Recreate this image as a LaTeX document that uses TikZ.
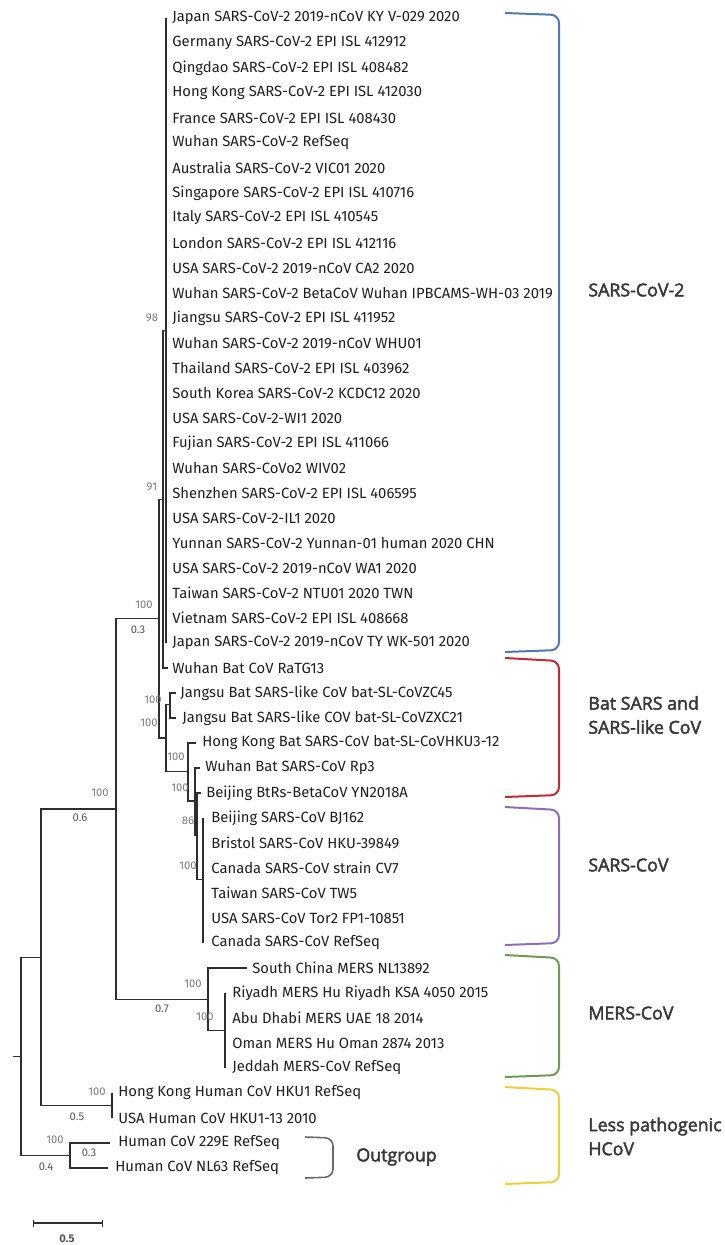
\documentclass[tikz,border=0pt]{standalone}
\usepackage{fontspec}
\setmainfont{Fira Sans}
\newfontfamily\grpfont{Open Sans}[FakeBold=2.5]
\usepackage{tikz}
\usetikzlibrary{positioning, arrows.meta}
\definecolor{treeline}{HTML}{2e2e2e}
\definecolor{leaftext}{HTML}{1f1f1f}
\definecolor{bootgray}{HTML}{7a7a7a}
\definecolor{blengray}{HTML}{555555}
\definecolor{grptext}{HTML}{383838}
\definecolor{cov2blue}{HTML}{4f78b5}
\definecolor{batred}{HTML}{c42a32}
\definecolor{sarspurple}{HTML}{8b6cbd}
\definecolor{mersgreen}{HTML}{6f9a52}
\definecolor{hcovyellow}{HTML}{f0cf3a}
\definecolor{outgray}{HTML}{6a6a6a}
\tikzstyle{branch}  = [draw=treeline, line width=0.6pt]
\tikzstyle{leaf}    = [anchor=west, inner sep=0pt, text=leaftext,
                       font=\fontsize{7.4}{8}\selectfont]
\tikzstyle{boot}    = [inner sep=0pt, text=bootgray, font=\fontsize{5.6}{6}\selectfont]
\tikzstyle{blen}    = [boot, text=blengray]
\tikzstyle{grp}     = [anchor=west, inner sep=0pt, align=left, text=grptext,
                       font=\grpfont\fontsize{8.9}{12}\selectfont]
\tikzstyle{bracket} = [line width=1pt, rounded corners=4pt]

\begin{document}
\begin{tikzpicture}[x=0.5pt, y=-0.5pt]
  \useasboundingbox (0,0) rectangle (724,1245);

  %% Leaves (tip x / gap / label), one row every 25px
  \foreach \tx/\gp/\lbl [count=\i from 0] in {
      166/3/Japan SARS-CoV-2 2019-nCoV KY V-029 2020,
      166/3/Germany SARS-CoV-2 EPI ISL 412912,
      166/3/Qingdao SARS-CoV-2 EPI ISL 408482,
      166/3/Hong Kong SARS-CoV-2 EPI ISL 412030,
      166/3/France SARS-CoV-2 EPI ISL 408430,
      166/3/Wuhan SARS-CoV-2 RefSeq,
      166/3/Australia SARS-CoV-2 VIC01 2020,
      166/3/Singapore SARS-CoV-2 EPI ISL 410716,
      166/3/Italy SARS-CoV-2 EPI ISL 410545,
      166/3/London SARS-CoV-2 EPI ISL 412116,
      166/3/USA SARS-CoV-2 2019-nCoV CA2 2020,
      166/3/Wuhan SARS-CoV-2 BetaCoV Wuhan IPBCAMS-WH-03 2019,
      166/3/Jiangsu SARS-CoV-2 EPI ISL 411952,
      166/3/Wuhan SARS-CoV-2 2019-nCoV WHU01,
      166/3/Thailand SARS-CoV-2 EPI ISL 403962,
      166/3/South Korea SARS-CoV-2 KCDC12 2020,
      166/3/USA SARS-CoV-2-WI1 2020,
      166/3/Fujian SARS-CoV-2 EPI ISL 411066,
      166/3/Wuhan SARS-CoVo2 WIV02,
      166/3/Shenzhen SARS-CoV-2 EPI ISL 406595,
      166/3/USA SARS-CoV-2-IL1 2020,
      166/3/Yunnan SARS-CoV-2 Yunnan-01 human 2020 CHN,
      166/3/USA SARS-CoV-2 2019-nCoV WA1 2020,
      166/3/Taiwan SARS-CoV-2 NTU01 2020 TWN,
      166/3/Vietnam SARS-CoV-2 EPI ISL 408668,
      166/3/Japan SARS-CoV-2 2019-nCoV TY WK-501 2020,
      168/2/Wuhan Bat CoV RaTG13,
      176/2/Jangsu Bat SARS-like CoV bat-SL-CoVZC45,
      176/3/Jangsu Bat SARS-like COV bat-SL-CoVZXC21,
      196/3/Hong Kong Bat SARS-CoV bat-SL-CoVHKU3-12,
      200/2.5/Wuhan Bat SARS-CoV Rp3,
      201/2.5/Beijing BtRs-BetaCoV YN2018A,
      203/4/Beijing SARS-CoV BJ162,
      203/4/Bristol SARS-CoV HKU-39849,
      203/4/Canada SARS-CoV strain CV7,
      203/4/Taiwan SARS-CoV TW5,
      203/4/USA SARS-CoV Tor2 FP1-10851,
      203/4/Canada SARS-CoV RefSeq,
      247/2.5/South China MERS NL13892,
      225/3.5/Riyadh MERS Hu Riyadh KSA 4050 2015,
      225/3.5/Abu Dhabi MERS UAE 18 2014,
      225/3.5/Oman MERS Hu Oman 2874 2013,
      225/3.5/Jeddah MERS-CoV RefSeq,
      112/3/Hong Kong Human CoV HKU1 RefSeq,
      112/3/USA Human CoV HKU1-13 2010,
      110/4/Human CoV 229E RefSeq,
      108/3.5/Human CoV NL63 RefSeq} {
    \coordinate (t\i) at (\tx,{18+25*\i});
    \node[leaf, right=\gp pt of t\i] (l\i) {\lbl};
  }

  %% Inner nodes
  \coordinate (stem) at (13,1056.35);
  \coordinate (root) at (21,1056.35);
  \coordinate (nT)   at (41,957.2);
  \coordinate (nA)   at (116,808.9);
  \coordinate (nS)   at (159,618.5);
  \coordinate (n91)  at (163,499.25);
  \coordinate (n98)  at (166,330.5);
  \coordinate (nB)   at (166,738);
  \coordinate (nJ)   at (170,704.5);
  \coordinate (nR)   at (188,771.5);
  \coordinate (n2)   at (195,801);
  \coordinate (n4)   at (197,835.75);
  \coordinate (n5)   at (203,879.5);
  \coordinate (nM)   at (208,999.25);
  \coordinate (nM2)  at (225,1030.5);
  \coordinate (nH)   at (112,1105.5);
  \coordinate (nO)   at (70,1155.5);

  %% Branches
  \draw[branch] (stem) -- (root);
  \foreach \p/\c in {root/nT, root/nO, nT/nA, nT/nH, nA/nS, nA/nM,
                     nS/n91, nS/nB, n91/n98, n91/t26, nB/nJ, nB/nR,
                     nJ/t27, nJ/t28, nR/t29, nR/n2, n2/t30, n2/n4,
                     n4/t31, n4/n5, nM/t38, nM/nM2, nH/t43, nH/t44,
                     nO/t45, nO/t46}
    \draw[branch] (\p) |- (\c);
  \foreach \i in {0,...,25}  \draw[branch] (n98) |- (t\i);
  \foreach \i in {32,...,37} \draw[branch] (n5) |- (t\i);
  \foreach \i in {39,...,42} \draw[branch] (nM2) |- (t\i);

  %% Bootstrap values
  \foreach \x/\y/\v [count=\k] in {152/318/98, 152/487/91, 144/605/100,
      153/700/100, 149/723/100, 176/757/100, 180/788/100, 188/821/86,
      188/866/100, 193/984/100, 205/1017/100, 100/793/100, 97/1092/100,
      55/1140/100}
    \node[boot] (bs\k) at (\x,\y) {\v};

  %% Branch lengths
  \foreach \x/\y/\v [count=\k] in {138/630/0.3, 80/818/0.6, 162/1009/0.7,
      77/1117/0.5, 46/1167/0.4, 89/1153/0.3}
    \node[blen] (bl\k) at (\x,\y) {\v};

  %% Scale bar
  \coordinate (sb0) at (33,1223);
  \coordinate (sb1) at (103,1223);
  \draw[branch, {Bar[width=3.5pt]}-{Bar[width=3.5pt]}] (sb0) -- (sb1);
  \node[blen, font=\bfseries\fontsize{5.6}{6}\selectfont] (sblbl) at (67,1239) {0.5};

  %% Clade brackets
  \draw[bracket, cov2blue]   (505,13) -- (559,15) -- (559,650) -- (505,652);
  \draw[bracket, batred]     (505,658) -- (559,661) -- (559,795) -- (505,797);
  \draw[bracket, sarspurple] (505,807) -- (559,810) -- (559,943) -- (505,945);
  \draw[bracket, mersgreen]  (505,955) -- (559,958) -- (559,1075) -- (505,1077);
  \draw[bracket, hcovyellow] (505,1087) -- (559,1090) -- (559,1182) -- (505,1184);
  \draw[bracket, outgray, line width=0.8pt]
        (305,1137) -- (333,1138) -- (333,1177) -- (305,1178);

  \node[grp] (gCov2) at (588,290)    {SARS-CoV-2};
  \node[grp] (gBat)  at (588,715)    {Bat SARS and\\SARS-like CoV};
  \node[grp] (gSars) at (588,865)    {SARS-CoV};
  \node[grp] (gMers) at (588,1013)   {MERS-CoV};
  \node[grp] (gHcov) at (588,1136.5) {Less pathogenic\\HCoV};
  \node[grp] (gOut)  at (356,1157)   {Outgroup};

\end{tikzpicture}
\end{document}
